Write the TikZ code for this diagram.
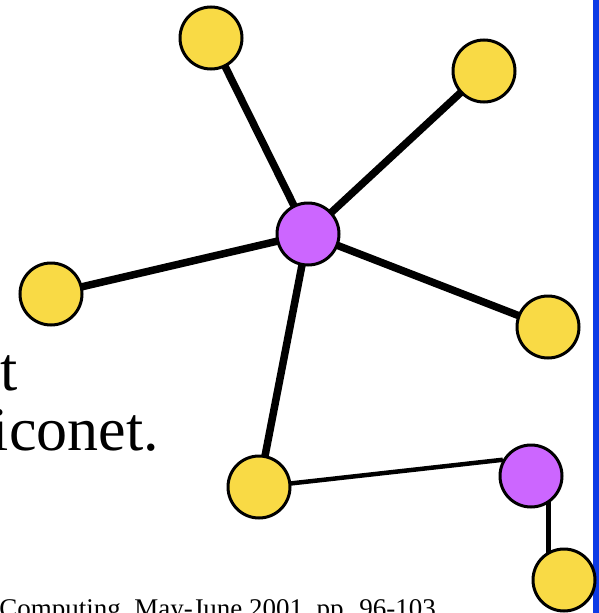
\documentclass[tikz,border=0pt]{standalone}
\usepackage{fontspec}
\setmainfont{Liberation Serif}
\usetikzlibrary{positioning}
\pgfdeclarelayer{background}
\pgfsetlayers{background,main}
\definecolor{devyellow}{RGB}{249,218,69}
\definecolor{devpurple}{RGB}{204,102,255}
\definecolor{barblue}{RGB}{13,59,230}
\tikzset{
  % one device of the piconet
  device/.style={
    draw, circle, line width=3pt, minimum size=62pt, inner sep=0pt
  },
  slave/.style={device, fill=devyellow},
  master/.style={device, fill=devpurple},
  link/.style={line width=7.5pt},
  x=1pt, y=-1pt
}

\begin{document}
\begin{tikzpicture}
      \useasboundingbox (0,0) rectangle (599,613);
      \clip (0,0) rectangle (599,613);
      \fill[barblue] (593,0) rectangle (599,613);

      \node[master] (hub) at (308,234) {};
      \node[slave] (top) at (211,38) {};
      \node[slave] (topright) at (484,71) {};
      \node[slave] (left) at (51,294) {};
      \node[slave] (right) at (548,327) {};
      \node[slave] (bottom) at (259,487) {};
      \node[master] (bridge) at (531,476) {};
      \node[slave] (corner) at (564,580) {};

      \node[anchor=base east, inner sep=0pt, font=\fontsize{62}{62}\selectfont] (t1) at (18,390) {t};
      \node[anchor=base east, inner sep=0pt, font=\fontsize{62}{62}\selectfont] (t2) at (159,450) {iconet.};
      \node[anchor=base east, inner sep=0pt, font=\fontsize{27}{30}\selectfont] (ref) at (436,617) {Computing, May-June 2001, pp. 96-103};

      \begin{pgfonlayer}{background}
      \draw[link] (hub.center) -- (top.center)
                  (hub.center) -- (topright.center)
                  (hub.center) -- (left.center)
                  (hub.center) -- (right.center)
                  (hub.center) -- (bottom.center);
      \draw[line width=4.5pt] (bottom.center) -- (bridge.150);
      \draw[line width=5pt] ([xshift=17pt]bridge.center) -- ([xshift=17pt]bridge.center |- corner.center);
      \end{pgfonlayer}
    \end{tikzpicture}
\end{document}
